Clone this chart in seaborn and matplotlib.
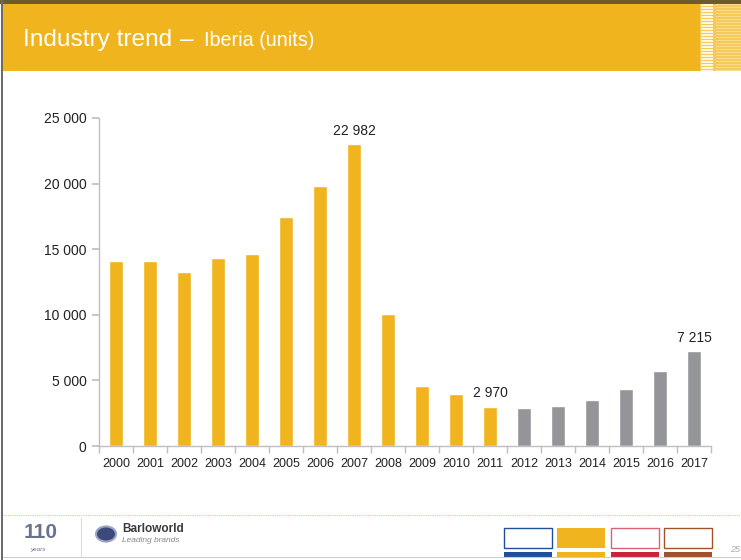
import matplotlib
matplotlib.use("Agg")
import matplotlib.pyplot as plt
from matplotlib.patches import Rectangle, Circle
from matplotlib.ticker import FuncFormatter, FixedLocator
import seaborn as sns

years = ["2000", "2001", "2002", "2003", "2004", "2005", "2006", "2007", "2008",
         "2009", "2010", "2011", "2012", "2013", "2014", "2015", "2016", "2017"]
units = [14100, 14100, 13260, 14330, 14630, 17450, 19820, 22982, 10040,
         4600, 3960, 2970, 2900, 3050, 3500, 4340, 5720, 7215]
actual_years = 12  # 2000-2011 actual (yellow), rest forecast (grey)
labelled_years = ["2007", "2011", "2017"]

YELLOW = "#F0B41E"
GREY = "#939598"

sns.set_theme(style="white")
plt.rcParams['font.family'] = ['Liberation Sans', 'DejaVu Sans']

fig = plt.figure(figsize=(7.41, 5.60), dpi=100)
W, H = 741, 560

def fx(x):
    return x / W

def fy(y):
    return 1 - y / H

# header band
fig.patches.append(Rectangle((fx(2), fy(71)), fx(698), 68 / H, transform=fig.transFigure,
                             facecolor=YELLOW, edgecolor="none", zorder=0))
# striped header block on the right
fig.patches.append(Rectangle((fx(700), fy(71)), fx(41), 68 / H, transform=fig.transFigure,
                             facecolor="#F5C95A", edgecolor="none", zorder=0))
for i in range(23):
    y0 = 4 + i * 3
    fig.patches.append(Rectangle((fx(701), fy(y0 + 1.6)), fx(12), 1.6 / H, transform=fig.transFigure,
                                 facecolor="#FFF6DC", edgecolor="none", zorder=1))
    fig.patches.append(Rectangle((fx(716), fy(y0 + 1.2)), fx(25), 1.2 / H, transform=fig.transFigure,
                                 facecolor="#FADB8C", edgecolor="none", zorder=1))
# top dark line
fig.patches.append(Rectangle((0, fy(4)), 1, 4 / H, transform=fig.transFigure,
                             facecolor="#6E5A2C", edgecolor="none", zorder=2))
# left border
fig.patches.append(Rectangle((fx(1), 0), fx(1.5), 1, transform=fig.transFigure,
                             facecolor="#6b6b6b", edgecolor="none", zorder=2))

fig.text(fx(23), fy(46), "Industry trend", color="white", fontsize=17.6, va="baseline", ha="left")
fig.text(fx(180), fy(46), "–", color="white", fontsize=17.6, va="baseline", ha="left")
fig.text(fx(204), fy(46), "Iberia (units)", color="white", fontsize=14.2, va="baseline", ha="left")

# axes
ax = fig.add_axes([fx(99), fy(446), fx(612), (446 - 118) / H])
colors = [YELLOW if i < actual_years else GREY for i in range(len(years))]
sns.barplot(x=years, y=units, hue=years, palette=colors, legend=False, width=0.4,
            saturation=1, ax=ax)
ax.set_ylim(0, 25000)
ax.set_xlim(-0.5, len(years) - 0.5)
ax.set_yticks(range(0, 25001, 5000))
ax.yaxis.set_major_formatter(FuncFormatter(lambda v, p: f"{int(v):,}".replace(",", " ")))
for s in ["top", "right"]:
    ax.spines[s].set_visible(False)
for s in ["left", "bottom"]:
    ax.spines[s].set_color("#BFBFBF")
    ax.spines[s].set_linewidth(1)
ax.tick_params(axis="y", which="major", left=True, length=5, color="#BFBFBF",
               labelsize=10, labelcolor="#222222", pad=4)
ax.tick_params(axis="x", which="major", bottom=False, labelsize=9, labelcolor="#222222", pad=2.5)
ax.xaxis.set_minor_locator(FixedLocator([i - 0.5 for i in range(len(years) + 1)]))
ax.tick_params(axis="x", which="minor", bottom=True, length=5, color="#BFBFBF")
ax.set_xlabel("")
ax.set_ylabel("")

for i, (yr, v) in enumerate(zip(years, units)):
    if yr in labelled_years:
        ax.text(i, v + 500, f"{v:,}".replace(",", " "), ha="center", va="bottom",
                fontsize=10, color="#222222")

# footer dotted line
fig.lines.append(plt.Line2D([fx(3), 1], [fy(515), fy(515)], transform=fig.transFigure,
                            color="#F2C96A", linestyle=(0, (1, 1)), linewidth=0.8))
fig.lines.append(plt.Line2D([fx(3), 1], [fy(557), fy(557)], transform=fig.transFigure,
                            color="#CCCCCC", linewidth=0.8))
# logos (approximation)
fig.text(fx(24), fy(533), "110", fontsize=15, color="#6A7290", fontweight="bold", va="center")
fig.text(fx(30), fy(549), "years", fontsize=4.5, color="#6A7290", style="italic", va="center")
fig.lines.append(plt.Line2D([fx(81), fx(81)], [fy(518), fy(556)], transform=fig.transFigure,
                            color="#DDDDDD", linewidth=0.8))
fig.patches.append(Circle((fx(106), fy(534)), 10 / W, transform=fig.transFigure,
                          facecolor="#3B4A7A", edgecolor="#9AA4C0", linewidth=1.5))
fig.text(fx(122), fy(529), "Barloworld", fontsize=8.5, fontweight="bold", color="#3A3A3A", va="center")
fig.text(fx(122), fy(541), "Leading brands", fontsize=6, style="italic", color="#888888", va="center")

# coloured boxes
boxes = [(504, "#1F4E9A", False), (557, YELLOW, True), (611, "#C8233A", False), (664, "#A0522D", False)]
for x0, col, filled in boxes:
    if filled:
        fig.patches.append(Rectangle((fx(x0), fy(548)), fx(48), 20 / H, transform=fig.transFigure,
                                     facecolor=col, edgecolor="none"))
    else:
        fig.patches.append(Rectangle((fx(x0), fy(548)), fx(48), 20 / H, transform=fig.transFigure,
                                     facecolor="white", edgecolor=col, linewidth=1,
                                     alpha=1 if col != "#C8233A" else 0.7))
    fig.patches.append(Rectangle((fx(x0), fy(558)), fx(48), 6 / H, transform=fig.transFigure,
                                 facecolor=col, edgecolor="none"))
fig.text(fx(730), fy(549), "25", fontsize=6.5, color="#AAAAAA", style="italic", va="center")

fig.savefig("out.png", dpi=100)
